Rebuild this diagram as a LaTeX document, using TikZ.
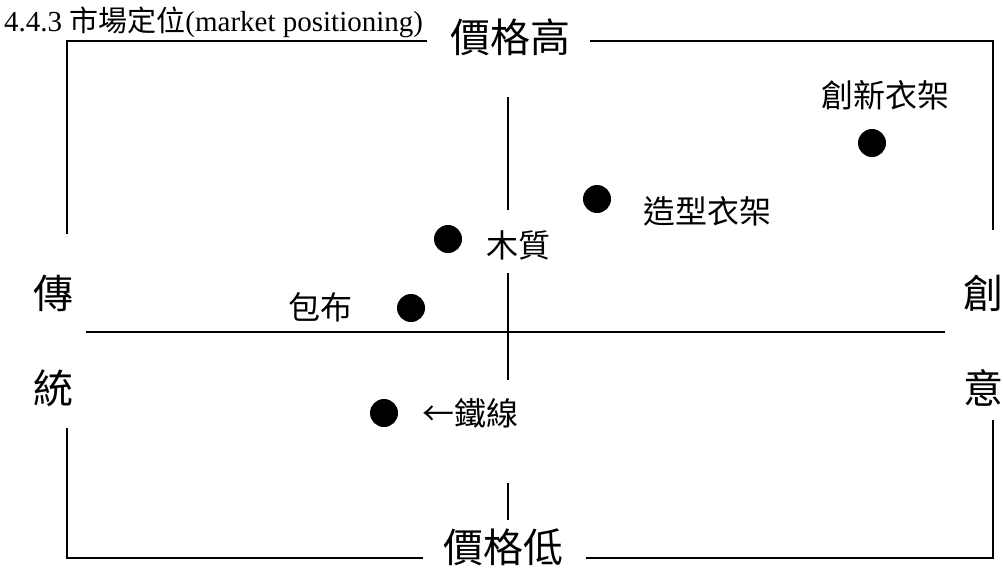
\documentclass[tikz,border=0pt]{standalone}
\usepackage{fontspec}
\setmainfont{Liberation Serif}
\newfontfamily\cjk{Noto Sans CJK TC}
\begin{document}
\begin{tikzpicture}[x=1pt,y=-1pt,
  line/.style={line width=1.8pt,black},
  dot/.style={circle,fill=black,inner sep=0pt,minimum size=28pt},
  big/.style={font=\cjk\fontsize{40}{40}\selectfont,inner sep=0pt,text height=35.2pt,text depth=4.8pt},
  lab/.style={font=\cjk\fontsize{32}{32}\selectfont,inner sep=0pt,text height=28.2pt,text depth=3.8pt}]
\useasboundingbox[fill=white] (0,0) rectangle (1003,568);
% frame corners
\coordinate (tl) at (67,41);
\coordinate (tr) at (993,41);
\coordinate (bl) at (67,558);
\coordinate (br) at (993,558);
% title
\node[anchor=base west,inner sep=0pt,font=\fontsize{29}{29}\selectfont] (title) at (4,31) {4.4.3 {\cjk 市場定位}(market positioning)};
% frame labels
\node[big] (hi) at (510,37) {價格高};
\node[big] (lo) at (503,547) {價格低};
\node[big] (t1) at (53,293) {傳};
\node[big] (t2) at (53,388) {統};
\node[big] (c1) at (983,293) {創};
\node[big] (c2) at (983,388) {意};
% frame
\draw[line] (427,41) -- (tl) -- (67,234);
\draw[line] (590,41) -- (tr) -- (993,230);
\draw[line] (67,428) -- (bl) -- (423,558);
\draw[line] (993,420) -- (br) -- (586,558);
% axes
\coordinate (ax1) at (86,332);
\coordinate (ax2) at (945,332);
\draw[line] (ax1) -- (ax2);
\coordinate (v1) at (508,97);
\coordinate (v2) at (508,210);
\coordinate (v3) at (508,273);
\coordinate (v4) at (508,380);
\coordinate (v5) at (508,483);
\coordinate (v6) at (508,520);
\draw[line] (v1) -- (v2);
\draw[line] (v3) -- (v4);
\draw[line] (v5) -- (v6);
% dots
\node[dot] (d1) at (872,143) {};
\node[dot] (d2) at (597,199) {};
\node[dot] (d3) at (448,239) {};
\node[dot] (d4) at (411,308) {};
\node[dot] (d5) at (384,413) {};
% labels
\node[lab] (l1) at (885,95) {創新衣架};
\node[lab] (l2) at (707,211) {造型衣架};
\node[lab] (l3) at (518,245) {木質};
\node[lab] (l4) at (320,307) {包布};
\node[lab] (l5) at (470,413) {←鐵線};
\end{tikzpicture}
\end{document}
